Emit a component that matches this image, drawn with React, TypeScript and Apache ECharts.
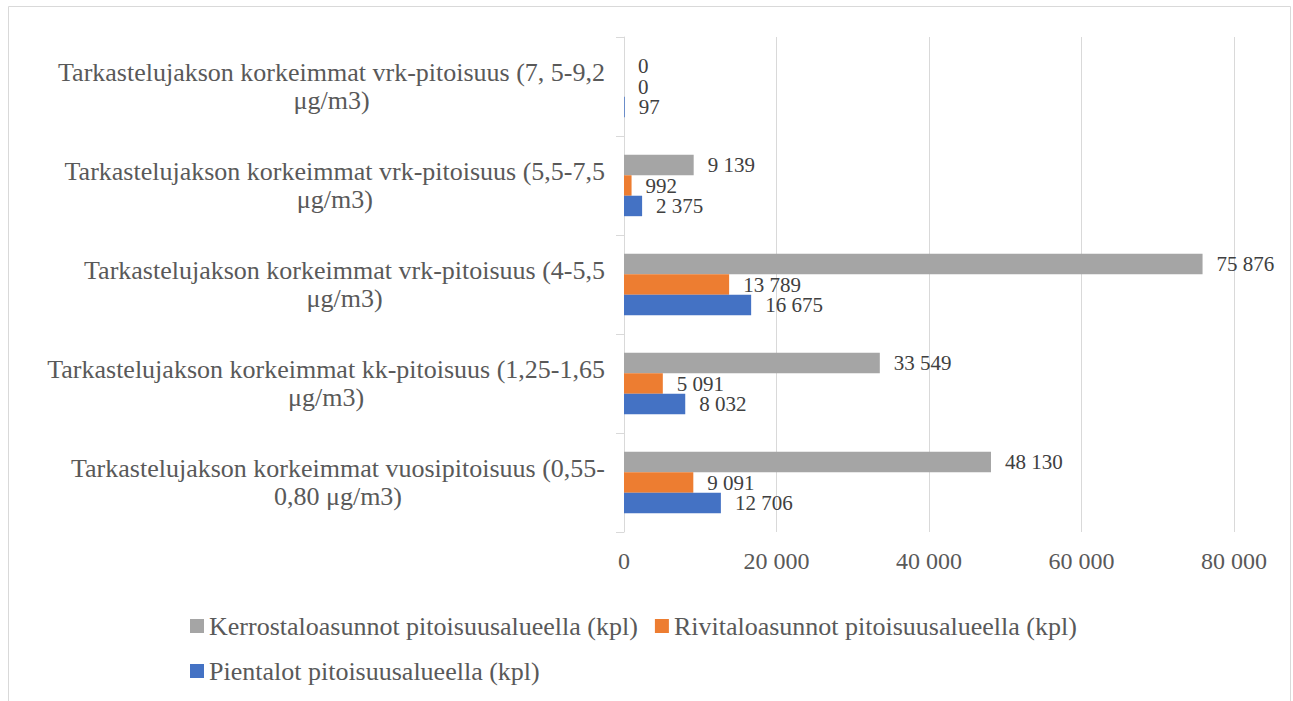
import React, { useEffect, useRef } from "react";
import * as echarts from "echarts";

const categories = [
  "Tarkastelujakson korkeimmat vuosipitoisuus (0,55-\n0,80 μg/m3)",
  "Tarkastelujakson korkeimmat kk-pitoisuus (1,25-1,65\nμg/m3)",
  "Tarkastelujakson korkeimmat vrk-pitoisuus (4-5,5\nμg/m3)",
  "Tarkastelujakson korkeimmat vrk-pitoisuus (5,5-7,5\nμg/m3)",
  "Tarkastelujakson korkeimmat vrk-pitoisuus (7, 5-9,2\nμg/m3)",
];
const kerrostalo = [48130, 33549, 75876, 9139, 0];
const rivitalo = [9091, 5091, 13789, 992, 0];
const pientalot = [12706, 8032, 16675, 2375, 97];
const seriesNames = [
  "Kerrostaloasunnot pitoisuusalueella (kpl)",
  "Rivitaloasunnot pitoisuusalueella (kpl)",
  "Pientalot pitoisuusalueella (kpl)",
];
const colors = ["#A5A5A5", "#ED7D31", "#4472C4"];

const FONT = "'Liberation Serif', 'Times New Roman', serif";
const fmt = (v: number) => String(v).replace(/\B(?=(\d{3})+(?!\d))/g, " ");

export default function App() {
  const ref = useRef<HTMLDivElement>(null);
  useEffect(() => {
    const chart = echarts.init(ref.current!, null, { renderer: "svg" });
    const values = [kerrostalo, rivitalo, pientalot];
    const legendText = { fontSize: 26, color: "#595959", fontFamily: FONT };
    chart.setOption({
      animation: false,
      backgroundColor: "#ffffff",
      textStyle: { fontFamily: FONT },
      graphic: [
        {
          type: "rect",
          shape: { x: 8.5, y: 6.5, width: 1282, height: 720 },
          style: { fill: "none", stroke: "#d9d9d9", lineWidth: 1 },
          silent: true,
        },
      ],
      grid: { left: 624, right: 59, top: 37, bottom: 169, containLabel: false },
      xAxis: {
        type: "value",
        min: 0,
        max: 80000,
        interval: 20000,
        axisLine: { show: false },
        axisTick: { show: false },
        splitLine: { lineStyle: { color: "#d9d9d9", width: 1 } },
        axisLabel: {
          margin: 17,
          fontSize: 24,
          color: "#595959",
          fontFamily: FONT,
          formatter: (v: number) => fmt(v),
        },
      },
      yAxis: {
        type: "category",
        data: categories,
        axisLine: { show: true, lineStyle: { color: "#d9d9d9", width: 1 } },
        axisTick: { show: true, length: 8, lineStyle: { color: "#d9d9d9" } },
        axisLabel: {
          margin: 19,
          color: "#595959",
          formatter: (v: string) =>
            v
              .split("\n")
              .map((l) => `{c|${l}}`)
              .join("\n"),
          rich: {
            c: {
              align: "center",
              fontSize: 26,
              lineHeight: 28,
              fontFamily: FONT,
              color: "#595959",
            },
          },
        },
      },
      legend: [
        {
          data: [seriesNames[0], seriesNames[1]],
          left: 185,
          top: 608,
          itemWidth: 14,
          itemHeight: 14,
          itemGap: 17,
          icon: "rect",
          textStyle: legendText,
        },
        {
          data: [seriesNames[2]],
          left: 185,
          top: 653,
          itemWidth: 14,
          itemHeight: 14,
          icon: "rect",
          textStyle: legendText,
        },
      ],
      series: values.map((d, i) => ({
        name: seriesNames[i],
        type: "bar",
        data: d,
        barGap: "0%",
        barCategoryGap: "38%",
        itemStyle: { color: colors[i] },
        label: {
          show: true,
          position: "right",
          distance: 14,
          fontSize: 21,
          lineHeight: 20,
          color: "#404040",
          fontFamily: FONT,
          formatter: (p: any) => fmt(p.value),
        },
      })),
    });
    return () => chart.dispose();
  }, []);
  return (
    <div
      ref={ref}
      style={{ position: "absolute", left: 0, top: 0, width: 1293, height: 701 }}
    />
  );
}
